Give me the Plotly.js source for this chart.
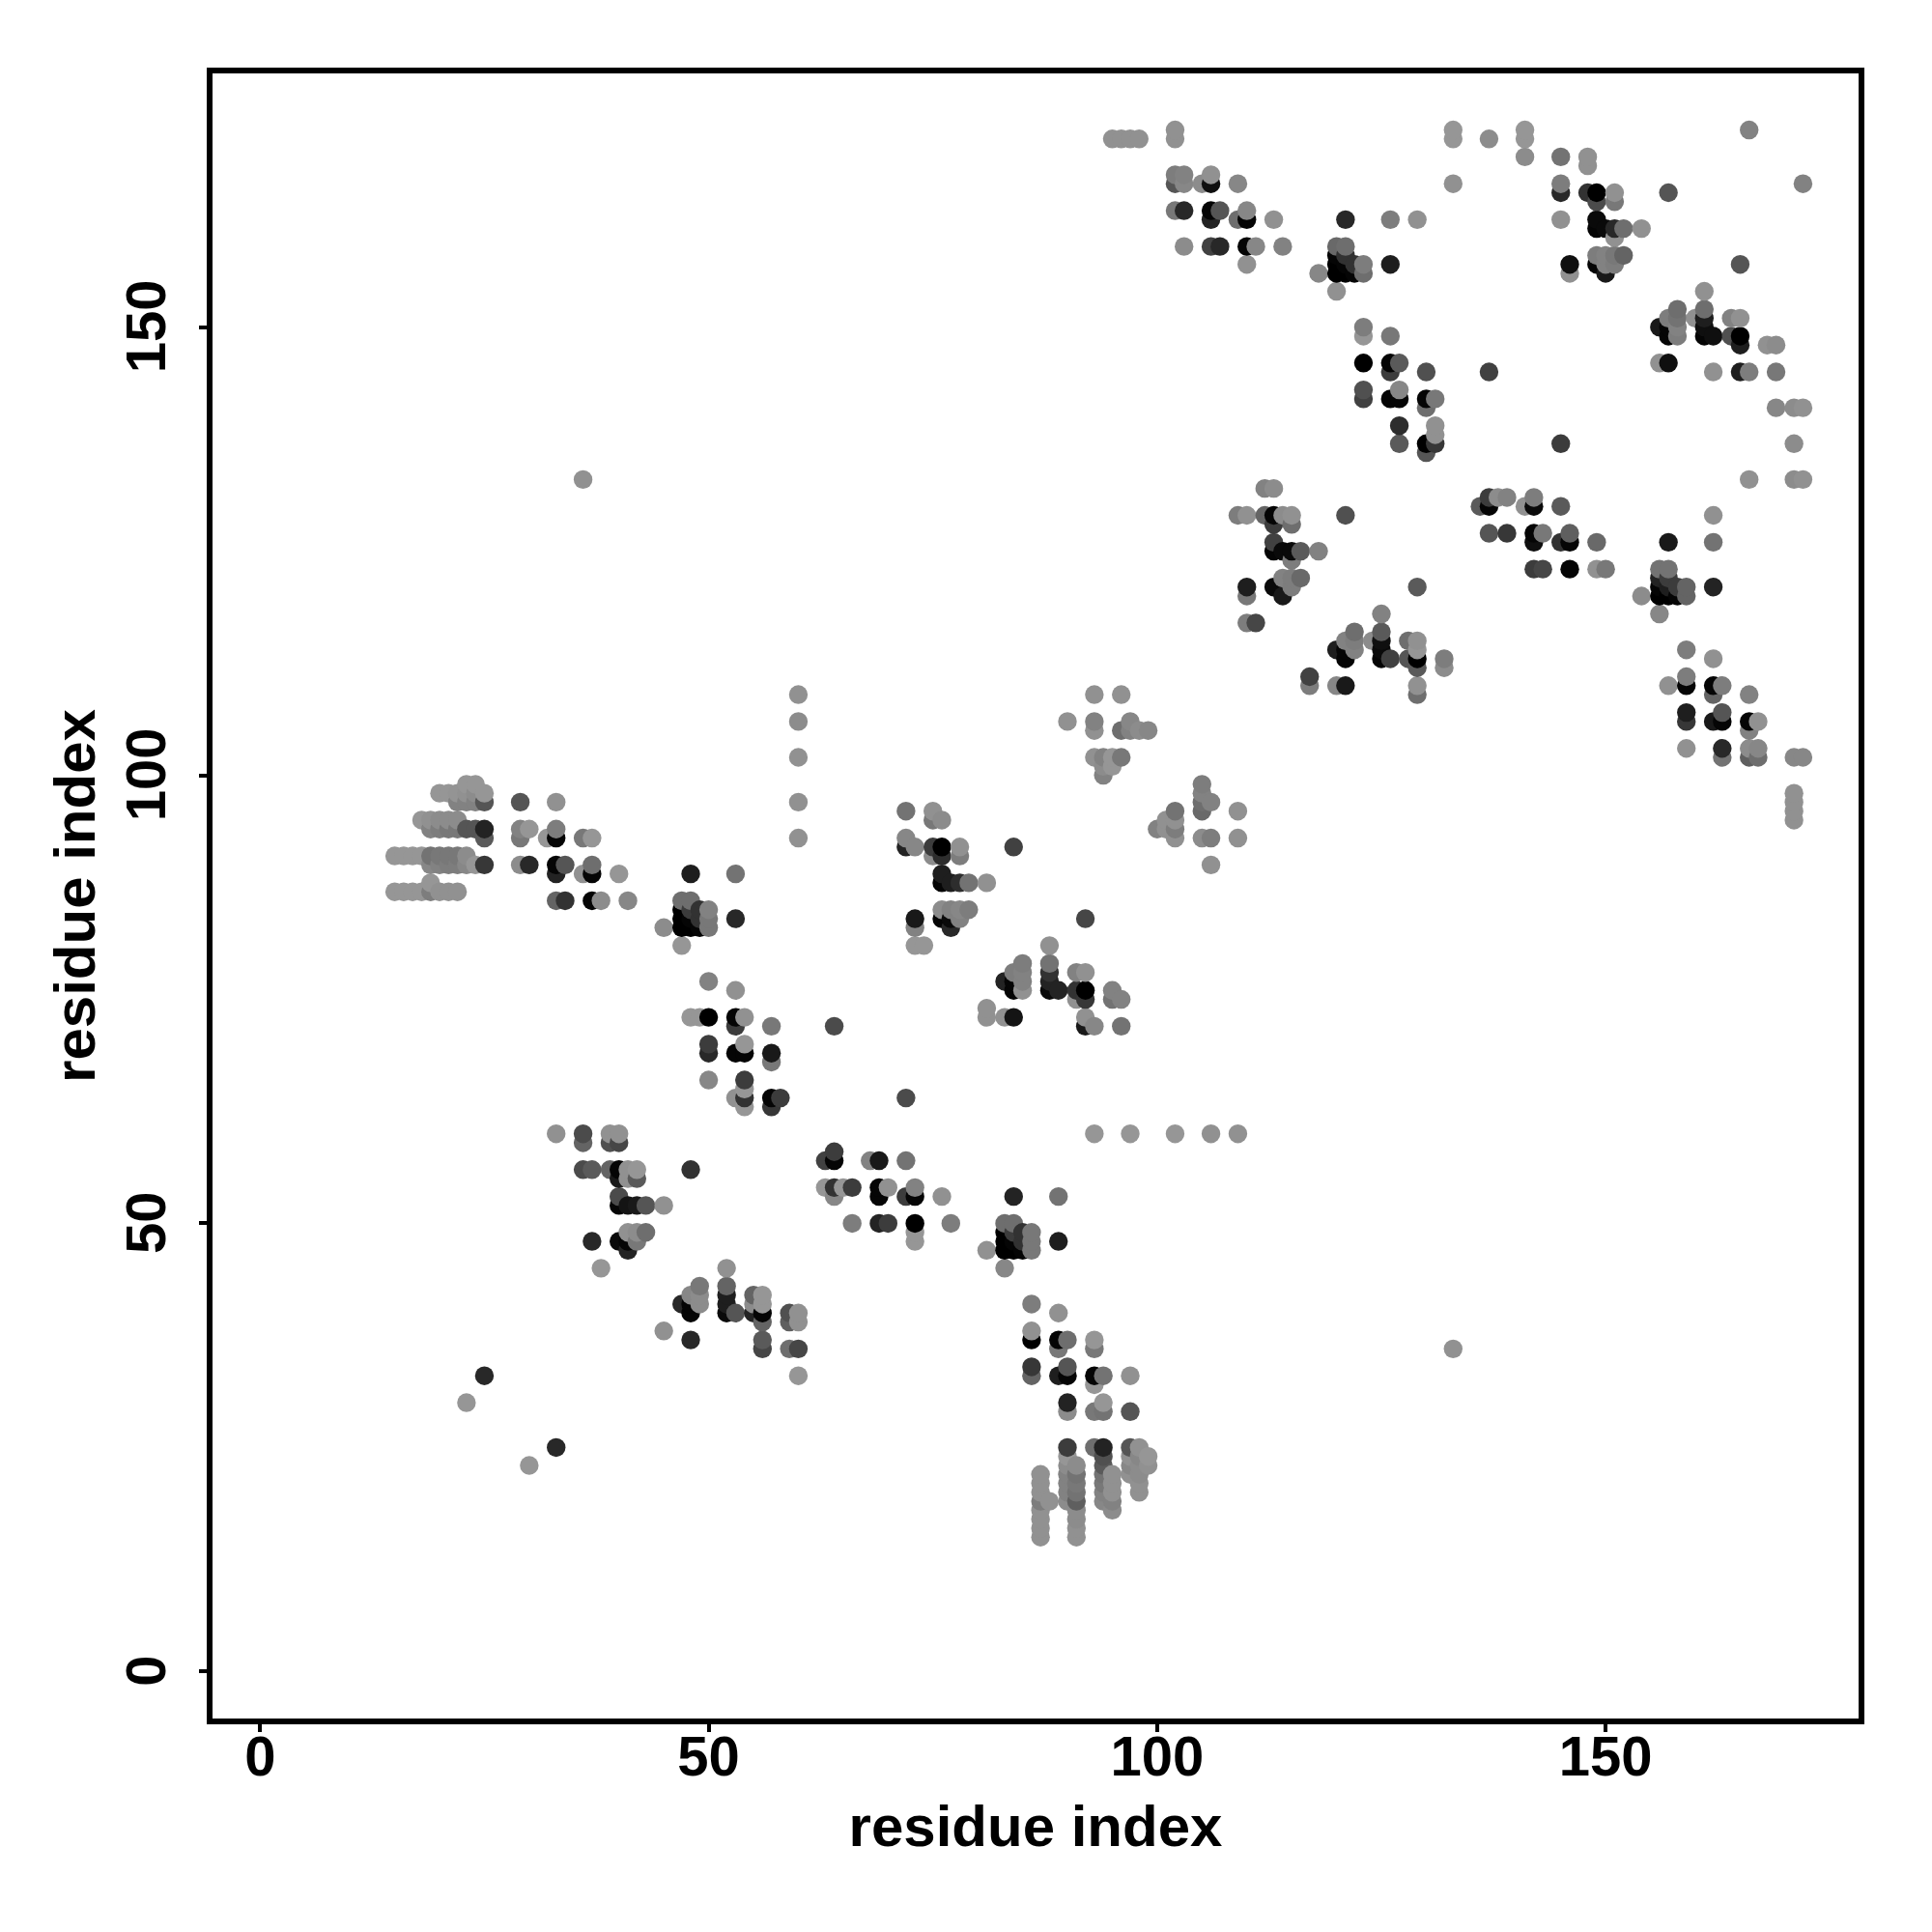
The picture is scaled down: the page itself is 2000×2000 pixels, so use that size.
<!DOCTYPE html>
<html><head><meta charset="utf-8">
<script src="https://cdn.plot.ly/plotly-3.0.1.min.js"></script>
<style>html,body{margin:0;padding:0;background:#fff}</style></head>
<body><div id="chart" style="width:2000px;height:2000px"></div>
<script>
// Each row: [residue y, x, gray, x, gray, ...]
const regionLowerLeft = [
[99,23,150,24,150],
[98,20,150,21,150,22,148,23,145,24,140,25,150],
[97,22,130,23,130,24,130,25,85,29,85,33,145],
[95,18,150,19,145,20,140,21,140,22,140],
[94,19,130,20,125,21,120,22,120,23,85,24,85,25,35,29,130,30,150,33,125],
[93,25,90,29,120,32,150,33,5,36,120,37,150],
[91,15,150,16,150,17,150,18,150,19,115,20,120,21,120,22,120,23,140],
[90,19,135,20,130,21,125,22,125,23,135,24,150,25,55,29,140,30,40,33,5,34,85,37,110],
[89,33,35,36,145,37,5,40,150,48,30,53,115],
[88,19,150],
[87,15,150,16,150,17,150,18,150,19,125,20,145,21,145,22,145],
[86,33,100,34,50,37,5,38,140,41,135,47,110,48,110],
[85,47,0,48,60,49,50,50,130],
[84,47,0,48,5,49,50,50,120,53,40],
[83,45,140,47,0,48,0,49,5,50,120],
[81,47,150],[77,50,130],[76,53,145],
[73,48,150,49,150,50,0,53,5,54,145],
[72,53,60,57,120],
[70,50,60,54,150],
[69,50,40,53,5,54,5,57,25],
[68,57,120],
[66,50,135,54,60],
[65,54,150],
[64,53,145,54,50,57,5,58,60],
[63,54,150,57,55]
];
const regionStrandB = [
[60,33,145,36,75,39,145,40,145],
[59,36,100,39,80,40,70],
[56,36,75,37,90,39,100,40,5,41,145,42,150,48,50],
[55,40,25,41,145,42,90],
[53,40,75],
[52,40,5,41,20,42,25,43,85,45,145],
[49,41,145,42,140,43,110],
[48,37,40,40,10,41,5,42,120],
[47,41,35],
[45,38,150,52,145],
[43,49,120,52,100],
[42,48,135,49,140,52,30,55,100,56,150],
[41,47,40,48,5,49,140,52,30,55,140,56,150],
[40,48,5,52,10,53,85,55,35,56,5,59,80,60,145],
[39,56,100,59,95,60,145],
[38,45,145],
[37,48,40,56,90],
[36,56,70,59,110,60,70,133,145],
[33,25,40,60,150],
[30,23,150],
[25,33,40],
[23,30,150]
];
const regionStrandC = [
[60,93,150,97,150,102,150,106,145,109,145],
[58,64,60],
[57,63,65,64,5,68,130,69,25,72,115],
[54,63,150,64,50,65,150,66,60,69,5,70,145,73,130],
[53,64,135,69,5,72,60,73,5,76,145,84,35,89,115],
[50,66,125,69,35,70,60,73,0,77,125,83,110,84,110],
[49,73,150,83,0,84,60,85,50,86,120],
[48,73,150,83,0,84,5,85,50,86,120,89,30],
[47,81,145,83,0,84,0,85,5,86,120],
[45,83,135],
[41,86,125],
[40,89,145],
[38,86,145],
[37,86,0,89,5,90,110,93,150],
[36,89,120,93,120],
[34,86,55,90,85],
[33,86,100,89,30,90,5,93,5,94,115,97,145],
[32,93,150],
[30,90,35,94,150],
[29,90,140,93,120,94,115,97,85],
[25,90,60,93,110,94,35,97,85,98,145],
[24,90,150,94,80,97,145,98,135,99,150],
[23,90,140,91,140,94,90,97,135,98,140,99,145],
[22,87,145,90,130,91,115,94,115,95,145,97,145,98,140],
[21,87,145,90,130,91,120,94,120,95,145,98,145],
[20,87,145,90,130,91,115,94,130,95,145,98,145],
[19,87,125,88,145,90,140,91,95,94,135,95,130],
[18,87,145,91,140,95,140],
[17,87,145,91,140],
[16,87,145,91,145],
[15,87,145,91,145]
];
const regionMiddle = [
[133,36,145],
[109,60,145,93,145,96,145],
[106,60,140,90,145,93,130,97,135],
[105,93,145,96,110,97,130,98,140,99,135],
[102,60,145,93,145,94,130,95,150,96,120],
[101,94,140,95,150],
[100,94,130],
[99,105,125],
[98,105,130],
[97,60,145,105,110,106,130],
[96,72,115,75,145,102,115,105,105,109,145],
[95,75,120,76,140,101,145,102,145],
[94,100,130,101,145,102,125],
[93,60,145,72,135,102,145,105,140,106,125,109,145],
[92,72,35,73,135,75,60,76,0,78,145,84,65],
[91,75,140,76,45,78,125],
[90,106,145],
[89,76,30],
[88,76,5,77,30,78,45,79,115,81,145],
[85,76,140,77,130,78,135,79,125],
[84,73,25,76,5,77,10,78,130,92,70],
[83,73,130,77,40],
[81,73,150,74,150,88,145],
[79,85,125,88,115],
[78,84,125,85,130,88,50,91,130,92,145],
[77,83,35,84,5,85,130,88,35],
[76,84,5,85,145,88,10,89,35,91,50,92,0,95,130],
[75,91,145,92,55,95,115,96,130],
[74,81,145],
[73,81,145,83,145,84,20,92,145],
[72,64,75,92,25,93,135,96,115],
[64,72,75]
];
const regionUpperA = [
[172,102,145,133,150],
[171,95,145,96,145,97,145,98,145,102,145,133,150],
[167,102,125,103,130,106,145],
[166,102,85,103,135,105,140,106,15,109,135,133,145],
[163,102,120,103,40,106,5,107,85,110,135],
[162,106,35,109,110,110,5,113,145,121,40,126,125,129,145],
[159,103,140,106,65,107,40,110,5,111,135,114,130,120,105,121,110],
[158,120,5,121,50],
[157,110,145,120,0,121,5,122,50,123,125,126,30],
[156,118,135,120,0,121,0,122,5,123,110],
[154,120,145],
[150,123,125],
[149,123,150,126,120],
[146,123,0,126,5,127,90],
[145,126,60,130,80,137,65],
[143,123,80,127,135],
[142,123,65,126,5,127,5,130,5,131,120],
[141,130,110],
[139,127,45,131,145],
[138,131,145],
[137,127,90,130,0,131,55,145,60],
[136,130,85],
[132,112,130,113,140]
];
const regionUpperB = [
[172,141,150,166,130],
[171,137,140,141,150],
[169,141,140,145,115,148,145],
[168,148,145],
[166,145,125,172,130],
[165,145,40,148,50,149,0,151,145,157,85],
[164,149,75,151,120],
[162,145,145,149,10],
[161,149,5,150,10,151,40,152,110,154,145],
[160,151,145],
[158,149,125,150,130,151,120,152,100],
[157,146,15,149,5,150,130,151,125,165,85],
[156,146,145,150,25],
[154,161,145],
[152,158,110,161,110],
[151,157,125,158,115,160,145,161,30,164,130,165,145],
[150,156,25,157,5,158,130,161,15],
[149,157,5,158,125,161,5,162,15,164,80,165,0],
[148,165,30,168,145,169,140],
[146,156,145,157,15],
[145,162,145,165,30,166,125,169,120],
[141,169,135,171,140,172,145],
[137,171,140],
[133,166,145,171,140,172,145]
];
const regionUpperC = [
[129,109,125,110,145,112,100,113,5,114,140,115,145,121,80,162,145],
[128,113,60,115,110],
[126,113,65,157,25,162,115],
[125,113,5,114,10,115,10,116,90,118,130],
[124,115,125],
[122,114,130,115,125,116,105],
[121,110,30,113,10,115,125,129,90,156,5,157,30,158,60,159,100,162,35],
[120,110,120,114,25,154,140,156,0,157,0,158,5,159,100],
[118,125,130,156,135],
[117,110,125,111,70],
[116,122,110,125,90],
[115,121,130,122,125,124,140,125,15,128,110,129,145],
[114,120,30,121,5,122,130,125,10,129,150,159,125],
[113,121,5,125,5,126,65,128,85,129,0,132,125,162,145],
[112,129,90,132,140],
[111,117,65,159,125],
[110,117,125,120,135,121,25,129,145,157,145,159,5,162,5,163,125],
[109,129,110,162,100,166,130],
[107,159,30,163,85],
[106,159,55,162,25,163,5,166,5,167,145],
[105,166,130],
[103,159,145,163,40,166,140,167,135],
[102,163,115,166,95,167,110,171,135,172,135],
[98,171,145],[97,171,145],[96,171,145],[95,171,145]
];
const regionUpperD = [
[131,137,60,138,140,139,130,142,125],
[130,136,90,137,5,141,145,142,10,145,90],
[127,137,85,139,55,142,5,143,120,146,95],
[126,142,15,145,50,146,5,149,105],
[123,142,60,143,70,146,5,149,145,150,120,156,115,157,115],
[122,156,35,157,60]
];
const axisTicks = [0,50,100,150];
const axisTitle = "residue index";

const rows = [].concat(regionLowerLeft,regionStrandB,regionStrandC,regionMiddle,regionUpperA,regionUpperB,regionUpperC,regionUpperD);
const contacts = [];
rows.forEach(r=>{for(let k=1;k<r.length;k+=2)contacts.push([r[k],r[0],r[k+1]]);});
contacts.sort((a,b)=>a[0]-b[0]||a[1]-b[1]);

const font = {family:'"Liberation Sans", Arial, sans-serif',size:58,color:'#000'};
const axisCommon = {
  tickvals:axisTicks, ticktext:axisTicks.map(String), ticks:'outside', ticklen:8, tickwidth:4, tickcolor:'#000',
  showgrid:false, zeroline:false, showline:true, mirror:true, linecolor:'#000', linewidth:6,
  tickfont:{...font,weight:'bold'}, automargin:false
};
Plotly.newPlot('chart',[{
  type:'scatter',mode:'markers',
  x:contacts.map(c=>c[0]),y:contacts.map(c=>c[1]),
  marker:{size:19.4,line:{width:0},color:contacts.map(c=>`rgb(${c[2]},${c[2]},${c[2]})`)},
  hoverinfo:'skip',cliponaxis:true
}],{
  width:2000,height:2000,showlegend:false,paper_bgcolor:'#fff',plot_bgcolor:'#fff',
  margin:{l:220,r:76,t:76,b:221,pad:0},
  xaxis:{...axisCommon,range:[-5.31,178.2],ticklabelstandoff:-25,title:{text:axisTitle,font:{...font,size:60,weight:'bold'},standoff:22}},
  yaxis:{...axisCommon,range:[-5.24,178.31],tickangle:-90,ticklabelstandoff:12,ticklabelshift:8,title:{text:axisTitle,font:{...font,size:60,weight:'bold'},standoff:2}}
},{displayModeBar:false,staticPlot:true});
</script></body></html>
